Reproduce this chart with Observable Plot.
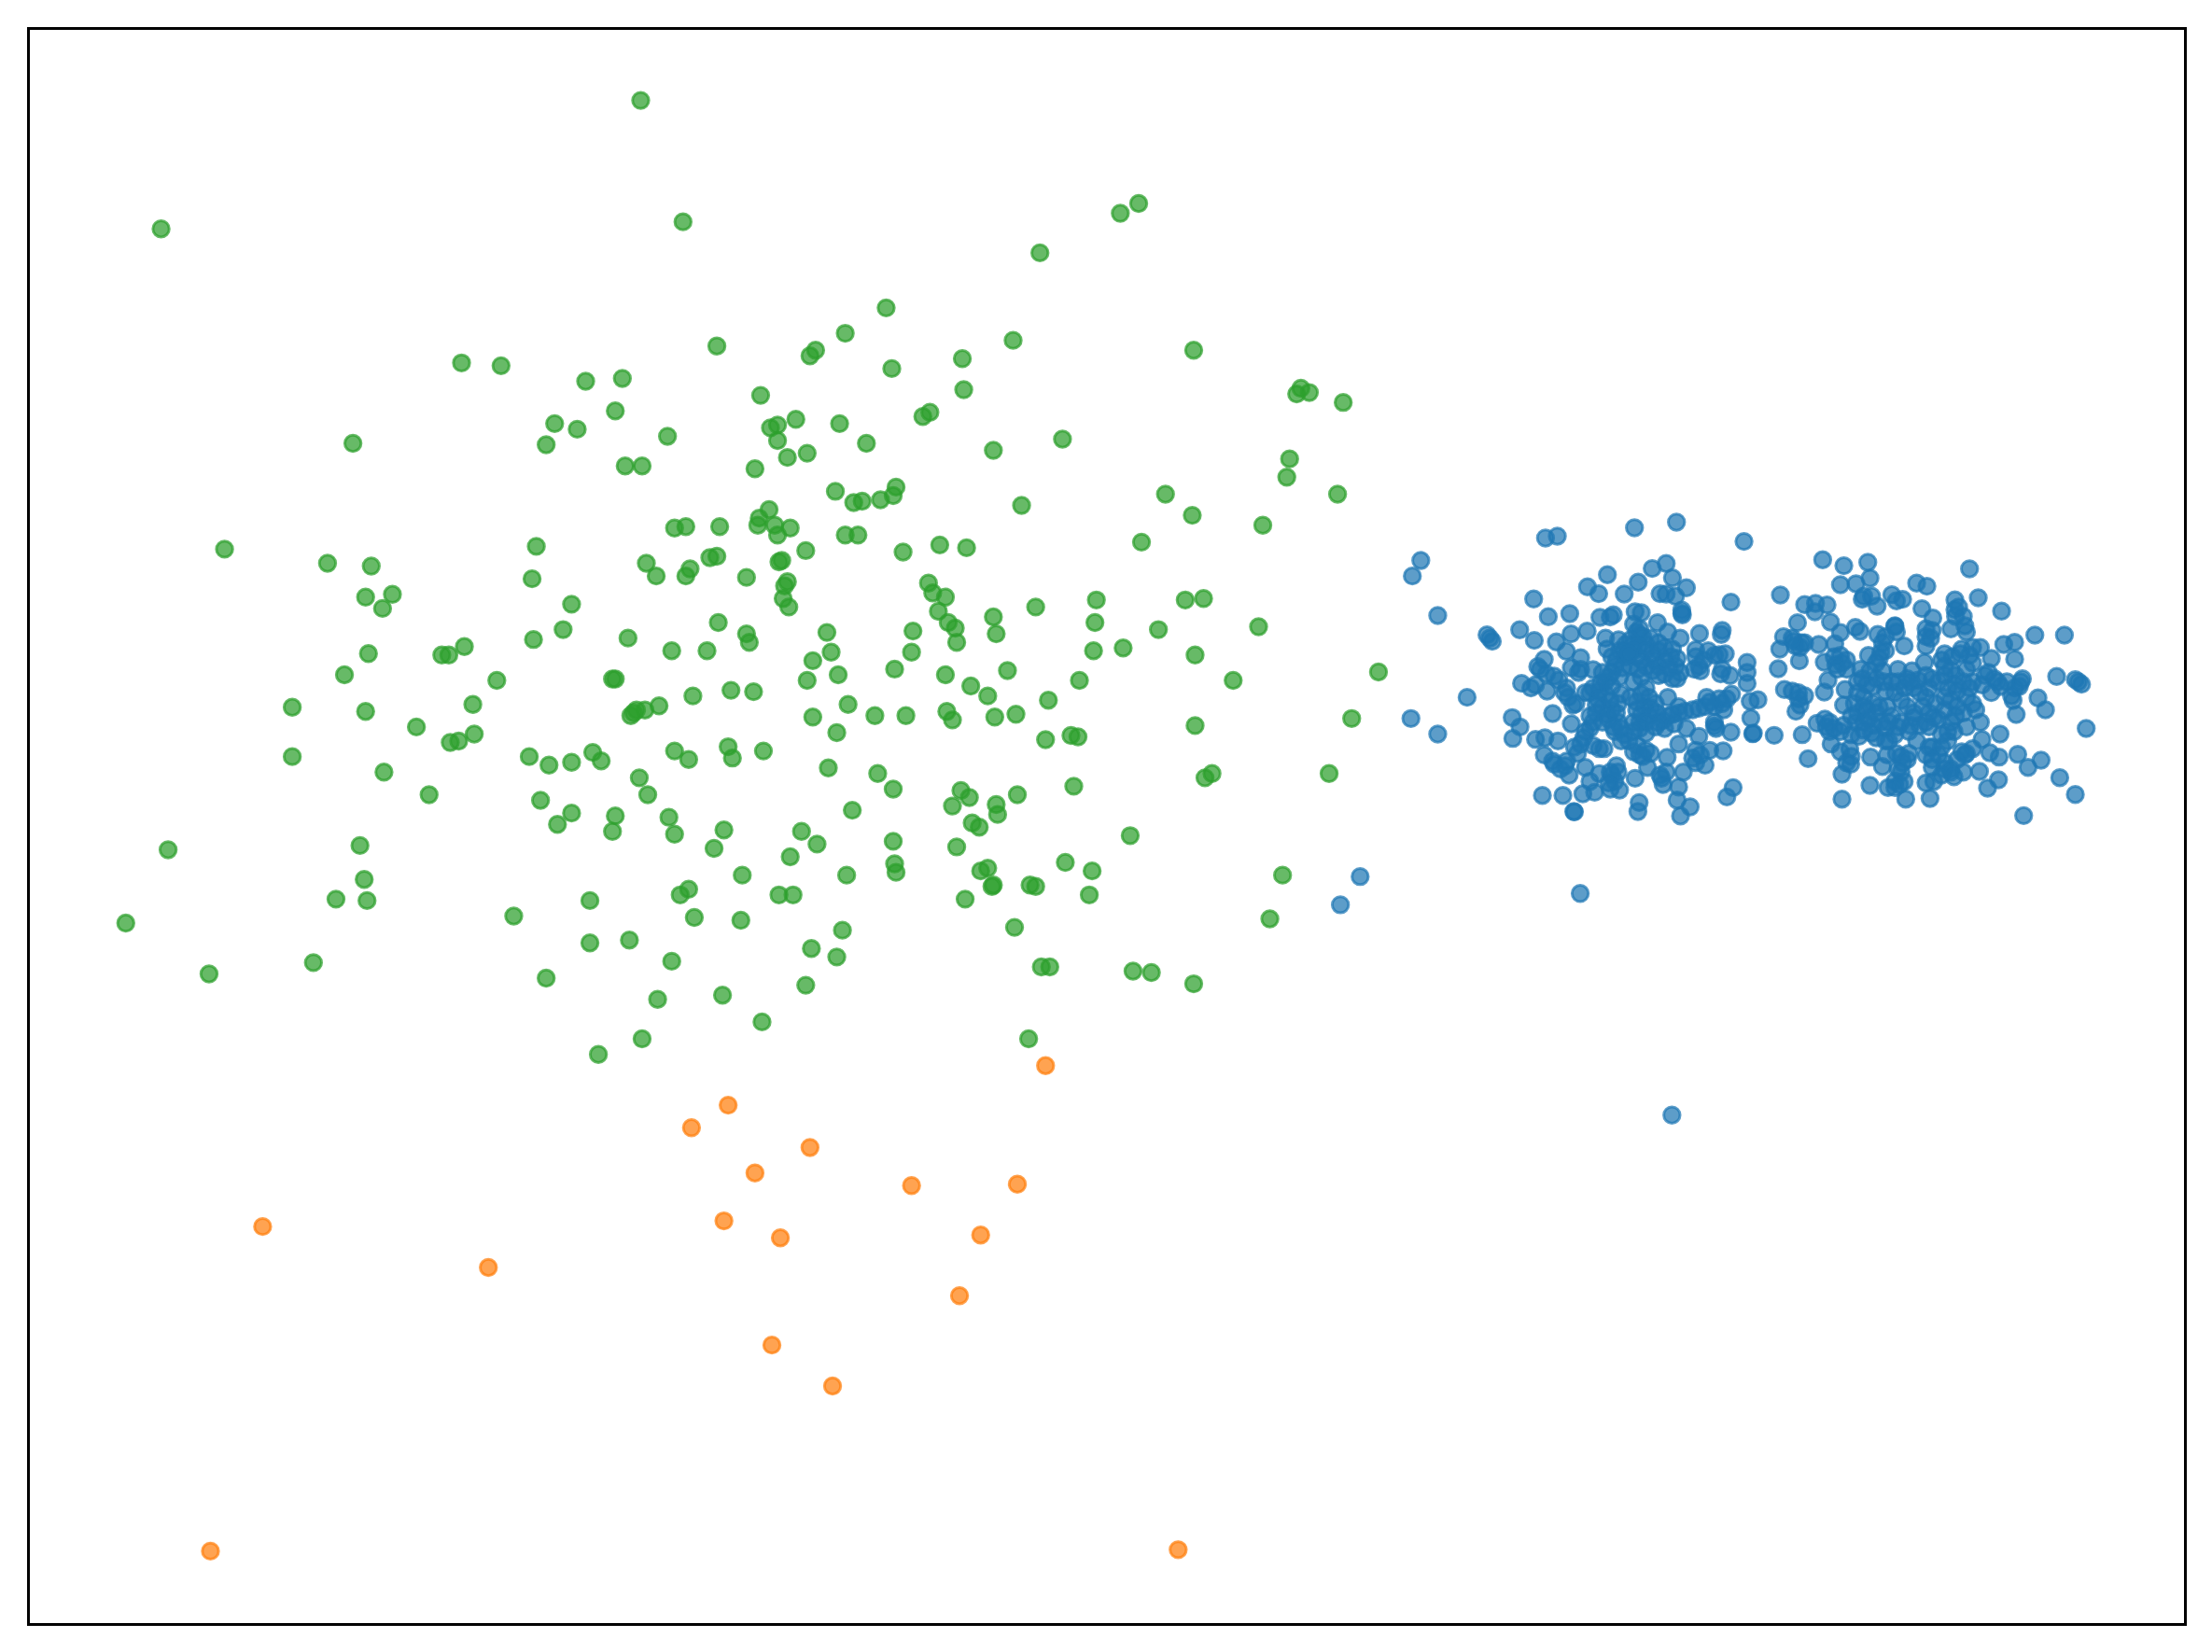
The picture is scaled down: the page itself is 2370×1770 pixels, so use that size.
<!DOCTYPE html>
<html><head><meta charset="utf-8">
<script src="https://cdn.jsdelivr.net/npm/d3@7"></script>
<script src="https://cdn.jsdelivr.net/npm/@observablehq/plot@0.6"></script>
<style>html,body{margin:0;padding:0;background:#fff}svg{display:block}</style>
</head><body><div id="chart"></div>
<script>
// Values, in units of the 1568-wide view of the reference.
const green = [[454,71],[114,162],[484,157],[794,151],[807,144],[737,179],[628,218],[599,236],[718,241],[508,245],[846,248],[574,252],[578,248],[682,254],[327,257],[355,259],[632,261],[415,270],[441,268],[683,276],[539,280],[919,279],[922,275],[928,278],[952,285],[436,291],[654,295],[659,292],[393,300],[409,304],[546,303],[551,301],[564,297],[595,300],[473,309],[250,314],[387,315],[551,312],[614,314],[753,311],[704,319],[558,324],[572,321],[443,330],[455,330],[535,332],[914,325],[912,338],[592,348],[635,345],[633,351],[624,354],[611,355],[605,356],[826,350],[948,350],[724,358],[845,365],[545,361],[538,367],[537,372],[549,372],[560,374],[478,374],[486,373],[510,373],[895,372],[551,379],[599,379],[608,379],[809,384],[380,387],[159,389],[571,390],[640,391],[666,386],[685,388],[232,399],[263,401],[458,399],[503,395],[508,394],[552,398],[554,397],[489,403],[486,408],[465,408],[529,409],[377,410],[556,415],[558,412],[658,413],[661,420],[670,423],[259,423],[278,421],[555,424],[559,430],[271,431],[405,428],[665,433],[840,425],[853,424],[777,425],[734,430],[704,437],[509,441],[776,441],[672,441],[677,445],[706,449],[647,447],[586,448],[399,446],[445,452],[378,453],[529,449],[531,455],[678,455],[892,444],[821,446],[796,459],[775,461],[329,458],[313,464],[318,464],[261,463],[476,461],[501,461],[589,462],[646,462],[576,468],[847,464],[634,474],[714,475],[670,478],[244,478],[594,478],[572,482],[352,482],[436,481],[434,481],[977,476],[874,482],[765,482],[688,486],[518,489],[534,490],[700,493],[491,493],[601,499],[743,496],[207,501],[467,500],[457,503],[451,503],[447,507],[449,505],[335,499],[259,504],[958,509],[576,508],[620,507],[642,507],[671,504],[675,510],[705,508],[720,506],[847,514],[295,515],[336,520],[325,525],[319,526],[593,519],[741,524],[759,521],[764,522],[516,529],[541,532],[478,532],[488,538],[519,537],[420,533],[426,539],[405,540],[389,542],[375,536],[207,536],[272,547],[587,544],[622,548],[942,548],[859,548],[854,551],[453,551],[761,557],[633,559],[681,560],[687,565],[721,563],[304,563],[459,563],[383,567],[706,570],[675,571],[604,574],[405,576],[436,578],[707,577],[474,579],[689,583],[694,586],[395,584],[434,589],[568,589],[513,588],[478,591],[801,592],[579,598],[633,596],[506,601],[678,600],[255,599],[119,602],[560,607],[755,611],[634,612],[635,618],[695,617],[700,615],[774,617],[600,620],[526,620],[909,620],[258,623],[703,628],[704,627],[730,627],[734,628],[488,630],[482,634],[552,634],[562,634],[772,634],[684,637],[238,637],[260,638],[418,638],[364,649],[492,650],[525,652],[900,651],[89,654],[719,657],[597,659],[418,668],[446,666],[575,672],[593,678],[476,681],[222,682],[738,685],[744,685],[803,688],[816,689],[148,690],[387,693],[571,698],[846,697],[512,705],[466,708],[540,724],[455,736],[729,736],[424,747]];
const orange = [[741,755],[516,783],[490,799],[574,813],[535,831],[646,840],[721,839],[186,869],[513,865],[553,877],[695,875],[346,898],[680,918],[547,953],[590,982],[149,1099],[835,1098]];
const blueOutliers = [[1007,397],[1001,408],[1019,436],[1000,509],[1019,520],[964,621],[950,641],[1120,633],[1185,790]];
const leftCropOrigin = [1550,540];
const blueLeft = [[603,75],[738,57],[317,108],[355,102],[955,119],[705,190],[660,206],[516,226],[725,236],[615,250],[770,268],[452,265],[488,287],[570,288],[685,287],[705,288],[735,295],[279,304],[913,314],[326,361],[395,351],[755,350],[757,355],[535,355],[525,362],[605,345],[625,348],[492,363],[129,419],[146,440],[138,430],[234,403],[281,437],[399,416],[451,407],[352,442],[677,380],[600,385],[620,400],[710,410],[750,430],[812,415],[885,405],[882,418],[510,430],[515,465],[552,435],[384,472],[430,493],[313,498],[292,521],[470,531],[423,540],[965,508],[965,540],[965,575],[800,467],[840,470],[875,483],[895,480],[815,535],[795,530],[880,545],[910,550],[240,575],[270,590],[322,600],[345,552],[360,565],[385,590],[378,605],[445,605],[65,620],[915,610],[975,633],[1000,628],[405,645],[340,672],[400,705],[210,685],[235,715],[212,752],[285,755],[315,750],[357,760],[313,805],[345,835],[380,840],[393,870],[445,845],[420,800],[440,750],[490,785],[460,890],[490,865],[475,925],[437,930],[525,915],[555,918],[545,840],[530,870],[605,880],[600,795],[630,810],[655,800],[645,845],[708,813],[745,770],[810,745],[860,712],[913,732],[977,687],[983,737],[985,735],[888,792],[800,790],[845,790],[800,830],[830,838],[760,860],[685,870],[695,900],[745,908],[740,950],[782,972],[751,1001],[618,958],[614,987],[900,940],[920,910],[307,935],[373,935],[408,987],[410,988],[620,420],[600,450],[640,450],[570,470],[660,480],[700,460],[720,490],[545,500],[610,490],[590,520],[640,520],[680,520],[735,520],[740,560],[700,545],[530,540],[510,570],[490,600],[510,610],[460,605],[560,610],[600,570],[640,590],[650,620],[635,650],[610,660],[500,650],[480,670],[530,660],[550,640],[520,690],[460,720],[550,700],[570,740],[650,680],[680,700],[710,680],[745,670],[790,660],[830,650],[835,620],[885,640],[890,660],[900,625],[620,700],[640,735],[700,720],[770,720],[600,700],[710,620],[745,650],[540,730],[585,760]];
// Extra points inside the solid parts of the left cluster, estimated.
const blueLeftDense = [[610,410],[630,425],[590,435],[655,430],[575,450],[615,455],[680,445],[555,470],[600,470],[640,470],[680,470],[725,465],[530,490],[575,490],[625,500],[665,500],[700,500],[740,495],[540,520],[565,525],[615,530],[660,535],[715,525],[750,540],[520,555],[555,555],[625,555],[680,550],[725,560],[495,575],[530,585],[470,590],[485,625],[525,630],[625,610],[670,640],[610,635],[655,655],[480,645],[515,675],[500,700],[545,670],[625,675],[675,670],[640,700],[695,695],[725,675],[765,665],[810,655],[860,650],[875,625],[845,635],[470,700],[445,730],[535,715],[430,770],[470,775],[505,785],[560,760],[410,780],[620,720],[670,715],[730,705],[525,860],[540,890],[520,895],[550,860],[340,825],[365,850],[385,825],[612,775],[620,805],[640,790],[690,880],[705,860],[790,815],[815,805],[810,520],[800,490],[825,500],[860,485],[885,530],[300,530],[320,545],[285,580],[400,525],[430,530],[390,620],[415,640],[860,700],[865,720],[755,340],[585,480],[500,540],[460,680],[560,720],[600,730],[590,620]];
const rightCropOrigin = [1850,560];
const blueRight = [[152,682],[308,118],[376,137],[453,126],[780,147],[172,231],[365,198],[415,195],[460,177],[610,193],[643,203],[530,230],[565,245],[545,250],[440,235],[435,245],[465,235],[483,267],[250,262],[285,258],[322,263],[283,285],[733,247],[808,240],[627,275],[883,283],[733,278],[760,300],[662,305],[227,320],[333,318],[540,332],[413,335],[428,348],[365,352],[485,358],[510,365],[720,340],[770,350],[660,345],[640,365],[640,395],[990,360],[1085,360],[182,365],[170,405],[215,380],[240,385],[235,400],[295,390],[347,388],[890,390],[925,383],[233,443],[570,395],[495,415],[755,405],[790,400],[815,400],[850,435],[925,437],[313,447],[370,450],[350,455],[455,425],[480,450],[635,448],[690,440],[790,450],[165,468],[950,500],[1060,493],[1120,503],[1140,518],[1130,510],[325,505],[313,543],[185,535],[210,540],[250,555],[230,565],[222,605],[380,535],[375,585],[420,510],[450,520],[480,500],[550,470],[595,475],[640,490],[660,500],[700,490],[735,490],[830,490],[870,510],[880,525],[940,525],[850,545],[920,570],[930,615],[1000,562],[1024,600],[1155,660],[570,530],[600,530],[640,560],[530,510],[440,560],[470,580],[450,600],[480,610],[440,640],[470,650],[740,540],[780,530],[710,530],[740,590],[800,600],[815,640],[770,655],[720,640],[665,625],[620,650],[590,650],[550,655],[510,660],[480,690],[520,700],[330,640],[315,630],[290,643],[375,650],[330,670],[400,680],[425,685],[335,710],[365,735],[395,725],[398,775],[370,807],[242,680],[261,757],[462,752],[500,782],[515,745],[545,740],[585,740],[565,770],[560,800],[555,840],[518,850],[460,843],[370,887],[575,887],[653,885],[640,835],[665,830],[720,800],[700,790],[760,800],[812,798],[838,852],[873,825],[875,752],[845,738],[820,695],[878,678],[935,743],[968,785],[1010,762],[1070,818],[1120,872],[954,940],[650,720],[680,745],[710,700],[730,670],[770,740],[790,725],[765,745],[660,785],[740,760]];
// Extra points inside the solid parts of the right cluster, estimated.
const blueRightDense = [[345,430],[365,425],[385,440],[355,470],[385,470],[500,385],[510,410],[490,435],[430,470],[460,475],[500,475],[435,500],[470,525],[505,510],[510,540],[550,510],[580,500],[615,505],[650,530],[620,545],[590,510],[540,545],[420,545],[440,590],[420,610],[455,630],[490,590],[495,640],[415,640],[465,675],[560,640],[600,625],[640,640],[680,630],[650,655],[585,670],[540,680],[700,460],[725,430],[750,420],[780,425],[720,470],[770,470],[790,510],[760,510],[735,520],[770,560],[720,570],[760,610],[735,620],[710,670],[840,480],[860,500],[900,510],[925,530],[915,555],[945,510],[640,340],[655,370],[735,300],[765,330],[745,270],[220,395],[250,385],[210,370],[345,660],[365,670],[320,655],[660,720],[640,745],[690,720],[700,770],[720,790],[690,810],[730,815],[660,760],[560,750],[580,760],[550,790],[540,830],[570,830],[540,850],[400,750],[385,770],[230,545],[235,585],[540,330],[545,350],[755,735],[515,590],[580,590],[630,590],[670,580],[700,560],[680,510],[410,580],[400,620],[530,620],[600,610],[650,610],[440,665],[520,640],[510,700],[700,600],[690,680],[790,580],[820,520],[700,420],[610,700],[560,570]];

const viewScale = 1568 / 2370;
const fromCrop = (origin, pts) => pts.map(([x, y]) => [(origin[0] + x / 3) * viewScale, (origin[1] + y / 3) * viewScale]);
const blue = [...blueOutliers, ...fromCrop(leftCropOrigin, [...blueLeft, ...blueLeftDense]), ...fromCrop(rightCropOrigin, [...blueRight, ...blueRightDense])];

const series = (data, color) => Plot.dot(data, {
  x: d => d[0], y: d => d[1], r: 8.7,
  fill: color, fillOpacity: 0.72,
  stroke: color, strokeOpacity: 0.72, strokeWidth: 3
});

const chart = Plot.plot({
  width: 2370, height: 1770,
  marginLeft: 30, marginRight: 29, marginTop: 30, marginBottom: 30,
  x: {domain: [20, 1549], axis: null},
  y: {domain: [1151, 20], axis: null},
  style: {background: "#fff"},
  marks: [
    series(blue, "#1f77b4"),
    series(orange, "#ff7f0e"),
    series(green, "#2ca02c"),
    Plot.frame({stroke: "#000", strokeWidth: 3})
  ]
});
document.getElementById("chart").append(chart);
</script></body></html>
